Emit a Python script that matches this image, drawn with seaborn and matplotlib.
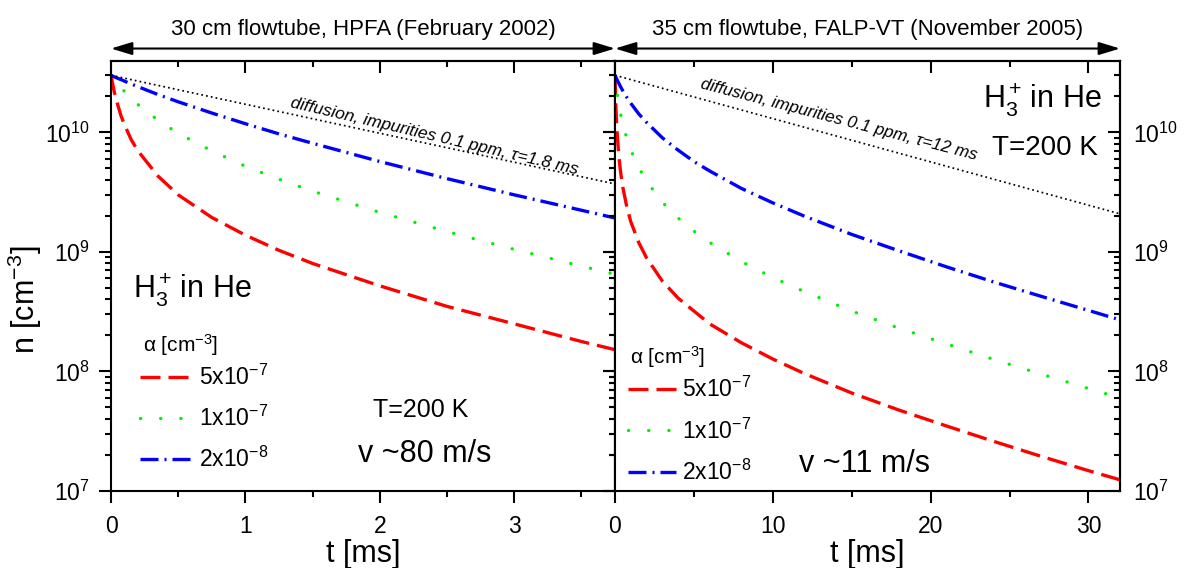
import numpy as np
import pandas as pd
import matplotlib
matplotlib.use("Agg")
import matplotlib.pyplot as plt
import seaborn as sns
from matplotlib.ticker import (MultipleLocator, FixedLocator, NullFormatter,
                               LogFormatterSciNotation)

# ---------------- data ----------------
alpha_labels = ["5x10$^{-7}$", "1x10$^{-7}$", "2x10$^{-8}$"]
legend_title = "α [cm$^{-3}$]"
y_major = [1e7, 1e8, 1e9, 1e10]

t_left = [0, 0.025, 0.05, 0.075, 0.1, 0.15, 0.2, 0.35, 0.5, 0.75, 1.0, 1.25, 1.5,
          2.0, 2.5, 3.0, 3.5, 3.75]
n_left_red = [3.0e10, 2.16e10, 1.7e10, 1.37e10, 1.16e10, 8.7e9, 7.0e9, 4.3e9, 3.0e9,
              1.94e9, 1.38e9, 1.03e9, 8.0e8, 5.2e8, 3.5e8, 2.5e8, 1.78e8, 1.52e8]
n_left_green = [3.0e10, 2.75e10, 2.54e10, 2.36e10, 2.2e10, 1.93e10, 1.71e10, 1.26e10,
                9.8e9, 7.0e9, 5.2e9, 4.05e9, 3.22e9, 2.14e9, 1.48e9, 1.05e9, 7.6e8, 6.5e8]
n_left_blue = [3.0e10, 2.91e10, 2.83e10, 2.76e10, 2.68e10, 2.54e10, 2.41e10, 2.07e10,
               1.8e10, 1.45e10, 1.18e10, 9.7e9, 8.1e9, 5.7e9, 4.1e9, 3.0e9, 2.23e9, 1.92e9]
t_left_diff = [0, 3.75]
n_left_diff = [3.0e10, 3.7e9]

t_right = [0, 0.05, 0.1, 0.15, 0.25, 0.35, 0.5, 0.75, 1, 1.5, 2, 3, 4, 5, 6, 8, 10, 12,
           15, 18, 21, 24, 27, 30, 32]
n_right_red = [3.0e10, 1.71e10, 1.19e10, 9.2e9, 6.2e9, 4.7e9, 3.45e9, 2.37e9, 1.79e9,
               1.2e9, 8.9e8, 5.7e8, 4.1e8, 3.2e8, 2.5e8, 1.74e8, 1.27e8, 9.6e7, 6.6e7,
               4.75e7, 3.5e7, 2.6e7, 1.95e7, 1.48e7, 1.24e7]
n_right_green = [3.0e10, 2.6e10, 2.29e10, 2.05e10, 1.69e10, 1.43e10, 1.17e10, 8.9e9,
                 7.1e9, 5.1e9, 3.9e9, 2.6e9, 1.92e9, 1.49e9, 1.2e9, 8.3e8, 6.1e8, 4.65e8,
                 3.2e8, 2.3e8, 1.7e8, 1.26e8, 9.5e7, 7.2e7, 6.0e7]
n_right_blue = [3.0e10, 2.9e10, 2.81e10, 2.72e10, 2.56e10, 2.41e10, 2.22e10, 1.96e10,
                1.75e10, 1.43e10, 1.21e10, 9.0e9, 7.1e9, 5.7e9, 4.75e9, 3.4e9, 2.57e9,
                1.99e9, 1.4e9, 1.02e9, 7.5e8, 5.6e8, 4.25e8, 3.24e8, 2.7e8]
t_right_diff = [0, 32]
n_right_diff = [3.0e10, 2.08e9]

left_title = "30 cm flowtube, HPFA (February 2002)"
right_title = "35 cm flowtube, FALP-VT (November 2005)"
diff_left = "diffusion, impurities 0.1 ppm, τ=1.8 ms"
diff_right = "diffusion, impurities 0.1 ppm, τ=12 ms"

# ---------------- style ----------------
sns.set_style("ticks")
plt.rcParams["font.family"] = ["Liberation Sans", "DejaVu Sans"]
plt.rcParams["mathtext.fontset"] = "custom"
plt.rcParams["mathtext.rm"] = "Liberation Sans"
plt.rcParams["mathtext.it"] = "Liberation Sans:italic"
plt.rcParams["mathtext.default"] = "regular"
plt.rcParams["axes.linewidth"] = 1.5
for k in ("text.color", "axes.labelcolor", "xtick.color", "ytick.color",
          "axes.edgecolor", "xtick.labelcolor", "ytick.labelcolor"):
    plt.rcParams[k] = "black"

LW = 2.4
series_styles = [
    dict(color="#FF0000", linestyle=(0, (6.0, 2.4)), dash_capstyle="butt"),
    dict(color="#00F000", linestyle=(0, (0.05, 6.0)), dash_capstyle="round"),
    dict(color="#0000FF", linestyle=(0, (5.4, 1.8, 0.6, 1.8)), dash_capstyle="butt"),
]

fig = plt.figure(figsize=(11.87, 5.68), dpi=100)
W, H = 1187, 568
ax1 = fig.add_axes([111 / W, (H - 491) / H, 504 / W, 430 / H])
ax2 = fig.add_axes([615 / W, (H - 491) / H, 505 / W, 430 / H])

MAJ, MIN = 8.5, 4.5
y_minor = [m * 10.0 ** e for e in range(7, 11) for m in range(2, 10) if m * 10.0 ** e < 3.95e10]


def draw_panel(ax, t, reds, greens, blues, td, nd, xmax, xmaj, xmin):
    for n, st in zip([reds, greens, blues], series_styles):
        sns.lineplot(x=t, y=n, ax=ax, linewidth=LW, estimator=None, sort=False,
                     legend=False, **st)
    sns.lineplot(x=td, y=nd, ax=ax, color="black", linewidth=1.25,
                 linestyle=(0, (1, 1.8)), estimator=None, sort=False, legend=False)
    ax.set_yscale("log")
    ax.set_ylim(1e7, 3.95e10)
    ax.set_xlim(0, xmax)
    ax.xaxis.set_major_locator(MultipleLocator(xmaj))
    ax.xaxis.set_minor_locator(MultipleLocator(xmin))
    ax.yaxis.set_major_locator(FixedLocator(y_major))
    ax.yaxis.set_minor_locator(FixedLocator(y_minor))
    ax.yaxis.set_major_formatter(LogFormatterSciNotation())
    ax.yaxis.set_minor_formatter(NullFormatter())
    ax.tick_params(which="both", direction="out", top=False, right=False, width=1.5,
                   labelsize=16.5, color="black", labelcolor="black")
    ax.tick_params(which="major", length=MAJ)
    ax.tick_params(which="minor", length=MIN)
    ax.tick_params(axis="x", pad=9)
    ax.tick_params(axis="y", pad=7)
    # top and right ticks pointing inward
    st = ax.secondary_xaxis("top")
    st.xaxis.set_major_locator(MultipleLocator(xmaj))
    st.xaxis.set_minor_locator(MultipleLocator(xmin))
    st.xaxis.set_major_formatter(NullFormatter())
    st.tick_params(which="both", direction="in", labeltop=False, width=1.5, color="black")
    st.tick_params(which="major", length=MAJ)
    st.tick_params(which="minor", length=MIN)
    sr = ax.secondary_yaxis("right")
    sr.yaxis.set_major_locator(FixedLocator(y_major))
    sr.yaxis.set_minor_locator(FixedLocator(y_minor))
    sr.yaxis.set_minor_formatter(NullFormatter())
    sr.tick_params(which="both", direction="in", width=1.5, labelsize=16.5, pad=9,
                   color="black", labelcolor="black")
    sr.tick_params(which="major", length=MAJ)
    sr.tick_params(which="minor", length=MIN)
    for sp in ax.spines.values():
        sp.set_linewidth(1.5)
        sp.set_visible(True)
        sp.set_color("black")
    return sr


sr1 = draw_panel(ax1, t_left, n_left_red, n_left_green, n_left_blue,
                 t_left_diff, n_left_diff, 3.75, 1, 0.5)
sr1.yaxis.set_major_formatter(NullFormatter())
sr2 = draw_panel(ax2, t_right, n_right_red, n_right_green, n_right_blue,
                 t_right_diff, n_right_diff, 32, 10, 5)
sr2.yaxis.set_major_formatter(LogFormatterSciNotation())
ax2.tick_params(axis="y", labelleft=False)

# axis labels
ax1.set_ylabel("n [cm$^{-3}$]", fontsize=22)
ax1.yaxis.set_label_coords(-0.133, 0.444)
for ax in (ax1, ax2):
    ax.set_xlabel("t [ms]", fontsize=22)
    ax.xaxis.set_label_coords(0.5, -0.112)

# legends (title drawn as separate text, entries by legend)
for ax, anchor, hl, tpos in ((ax1, (0.058, 0.294), 2.3, (0.063, 0.3395)),
                             (ax2, (0.026, 0.265), 2.1, (0.029, 0.3116))):
    handles = ax.get_lines()[:3]
    ax.legend(handles, alpha_labels, loc="upper left",
              bbox_to_anchor=anchor, frameon=False, fontsize=16.5,
              handlelength=hl, handletextpad=0.25,
              labelspacing=0.7, borderpad=0, borderaxespad=0)
    ax.text(tpos[0], tpos[1], legend_title, transform=ax.transAxes, fontsize=15,
            ha="left", va="center")

# annotations inside panels
ax1.text(0.355, 0.893, diff_left, transform=ax1.transAxes, fontsize=12.5, style="italic",
         rotation=-13.2, rotation_mode="anchor", ha="left", va="baseline")
ax2.text(0.168, 0.937, diff_right, transform=ax2.transAxes, fontsize=12.3, style="italic",
         rotation=-14.6, rotation_mode="anchor", ha="left", va="baseline")

ax1.text(0.044, 0.451, "H$_3^+\\!$ in He", transform=ax1.transAxes, fontsize=22,
         ha="left", va="baseline")
ax1.text(0.615, 0.173, "T=200 K", transform=ax1.transAxes, fontsize=18,
         ha="center", va="baseline")
ax1.text(0.623, 0.068, "v ~80 m/s", transform=ax1.transAxes, fontsize=22,
         ha="center", va="baseline")

ax2.text(0.964, 0.891, "H$_3^+\\!$ in He", transform=ax2.transAxes, fontsize=22,
         ha="right", va="baseline")
ax2.text(0.956, 0.781, "T=200 K", transform=ax2.transAxes, fontsize=20,
         ha="right", va="baseline")
ax2.text(0.495, 0.044, "v ~11 m/s", transform=ax2.transAxes, fontsize=22,
         ha="center", va="baseline")

# top arrows with captions
for ax, title in ((ax1, left_title), (ax2, right_title)):
    ax.annotate("", xy=(0, 1.029), xytext=(1, 1.029), xycoords="axes fraction",
                textcoords="axes fraction", annotation_clip=False,
                arrowprops=dict(arrowstyle="<|-|>,head_length=1.28,head_width=0.39",
                                color="black", lw=1.5, shrinkA=0, shrinkB=0,
                                mutation_scale=10))
    ax.text(0.5, 1.0605, title, transform=ax.transAxes, ha="center", va="baseline",
            fontsize=16)

fig.savefig("out.png", dpi=100)
